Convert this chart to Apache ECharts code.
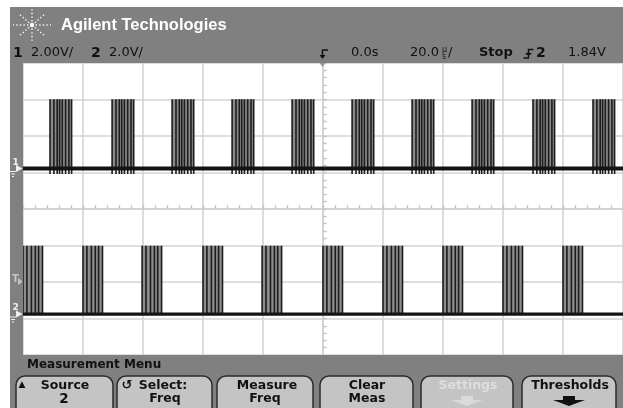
<!DOCTYPE html>
<html>
<head>
<meta charset="utf-8">
<script src="https://cdn.jsdelivr.net/npm/echarts@6/dist/echarts.min.js"></script>
<style>
  html, body { margin: 0; padding: 0; background: #fff; }
  #scope { width: 623px; height: 408px; }
</style>
</head>
<body>
<div id="scope"></div>
<script>
// Burst timing in microseconds (20 µs/div, trigger at 0 s)
const ch1BurstStartUs = [-91.0, -70.3, -50.3, -30.3, -10.3, 9.7, 29.7, 49.7, 70.0, 90.0];
const ch1EdgeOffsetsUs = [0, 1.3, 2.4, 3.2, 4.1, 5.2, 6.3, 7.2];
const ch2BurstStartUs = [-100.0, -80.0, -60.3, -40.0, -20.3, 0.0, 20.0, 40.0, 60.0, 80.0];
const ch2EdgeOffsetsUs = [0, 1.3, 2.8, 4.1, 5.2, 6.5];

// Signal levels in volts: [ground, high, undershoot]
const ch1LevelsV = [0, 3.8, -0.3];
const ch2LevelsV = [0, 3.75, -0.1];

// Channel scale (V/div) and ground marker position (div above screen centre)
const channelVoltsPerDiv = [2.0, 2.0];
const channelGroundDiv = [1.11, -2.88];

// Horizontal / vertical graticule
const timeRangeUs = [-100, 100];
const timePerDivUs = 20;
const divRange = [-4, 4];

function toDiv(ch, v) {
  return channelGroundDiv[ch] + v / channelVoltsPerDiv[ch];
}

// Each edge becomes a vertical stroke from the undershoot up to the high level
function traceData(ch, starts, offsets, levels) {
  const lo = toDiv(ch, levels[0]);
  const hi = toDiv(ch, levels[1]);
  const un = toDiv(ch, levels[2]);
  const pts = [];
  starts.forEach(function (s) {
    offsets.forEach(function (o) {
      const t = s + o;
      pts.push([t, lo], [t, un], [t, hi], [t, lo]);
    });
  });
  return pts;
}

// Persistence shading behind each burst
function burstShade(ch, starts, offsets, levels) {
  const w = offsets[offsets.length - 1];
  return starts.map(function (s) {
    return [{ coord: [s, toDiv(ch, levels[0])] }, { coord: [s + w, toDiv(ch, levels[1])] }];
  });
}

function groundLine(ch, levels) {
  const lo = toDiv(ch, levels[0]);
  return [[timeRangeUs[0], lo], [timeRangeUs[1], lo]];
}

const GRID_COLOR = '#d3d3d3';
const TICK_COLOR = '#c4c4c4';
const BEZEL = '#808080';

function centreAxis(base, inside, withSplit) {
  return Object.assign({
    axisLabel: { show: false },
    splitLine: { show: withSplit, lineStyle: { color: GRID_COLOR, width: 1.6 } },
    axisLine: { show: true, onZero: true, onZeroAxisIndex: 0, lineStyle: { color: GRID_COLOR, width: 1.6 } },
    axisTick: { show: true, inside: inside, length: 3.5, lineStyle: { color: TICK_COLOR, width: 1.2 } },
    minorTick: { show: true, splitNumber: 5, length: 3.5, lineStyle: { color: TICK_COLOR, width: 1.2 } },
    minorSplitLine: { show: false }
  }, base);
}

const xBase = { type: 'value', min: timeRangeUs[0], max: timeRangeUs[1], interval: timePerDivUs, gridIndex: 0 };
const yBase = { type: 'value', min: divRange[0], max: divRange[1], interval: 1, gridIndex: 0 };

const statusFont = '13px "DejaVu Sans"';
const statusBold = 'bold 14px "DejaVu Sans"';
const keyFont = 'bold 12.5px "DejaVu Sans"';

function txt(x, y, text, font, fill, align) {
  return {
    type: 'text', x: x, y: y, z: 100, silent: true,
    style: { text: text, font: font, fill: fill || '#111', textAlign: align || 'left', textVerticalAlign: 'middle' }
  };
}

function softkey(x0, x1) {
  return {
    type: 'rect', z: 60, silent: true,
    shape: { x: x0, y: 376, width: x1 - x0, height: 44, r: 9 },
    style: { fill: '#c4c4c4', stroke: '#2b2b2b', lineWidth: 1.5 }
  };
}

function downArrow(cx, color) {
  return {
    type: 'polygon', z: 100, silent: true,
    shape: { points: [[cx - 6, 396], [cx + 6, 396], [cx + 6, 400], [cx + 16, 400], [cx, 406], [cx - 16, 400], [cx - 6, 400]] },
    style: { fill: color }
  };
}

// Agilent spark logo: dotted rays around a centre
function sparkLogo(cx, cy) {
  const rays = [[19, 0], [-19, 0], [0, 16], [0, -16], [13, 11], [-13, -11], [13, -11], [-13, 11]];
  const els = rays.map(function (r) {
    return {
      type: 'line', z: 100, silent: true,
      shape: { x1: cx, y1: cy, x2: cx + r[0], y2: cy + r[1] },
      style: { stroke: '#f4f4f4', lineWidth: 1.4, lineDash: [1.4, 2.2] }
    };
  });
  els.push({ type: 'circle', z: 101, silent: true, shape: { cx: cx, cy: cy, r: 2.2 }, style: { fill: '#ffffff' } });
  return els;
}

function groundMarker(label, y, color) {
  return [
    txt(12.5, y - 6, label, 'bold 9px "DejaVu Sans"', color),
    { type: 'polygon', z: 100, silent: true, shape: { points: [[16, y - 3.5], [22.5, y], [16, y + 3.5]] }, style: { fill: color } },
    { type: 'line', z: 100, silent: true, shape: { x1: 10, y1: y + 3, x2: 16, y2: y + 3 }, style: { stroke: color, lineWidth: 1 } },
    { type: 'line', z: 100, silent: true, shape: { x1: 11, y1: y + 5.5, x2: 15, y2: y + 5.5 }, style: { stroke: color, lineWidth: 1 } },
    { type: 'line', z: 100, silent: true, shape: { x1: 12, y1: y + 8, x2: 14, y2: y + 8 }, style: { stroke: color, lineWidth: 1 } }
  ];
}

const graphics = [
  // bezel around the display area
  { type: 'rect', z: 50, silent: true, shape: { x: 10, y: 7, width: 613, height: 56 }, style: { fill: BEZEL } },
  { type: 'rect', z: 50, silent: true, shape: { x: 10, y: 63, width: 13, height: 292 }, style: { fill: BEZEL } },
  { type: 'rect', z: 50, silent: true, shape: { x: 10, y: 355, width: 613, height: 53 }, style: { fill: BEZEL } },

  txt(61, 25, 'Agilent Technologies', 'bold 16.5px "Liberation Sans"', '#ffffff'),

  // status line
  txt(13, 53, '1', statusBold),
  txt(31, 53, '2.00V/', statusFont),
  txt(91, 53, '2', statusBold),
  txt(109, 53, '2.0V/', statusFont),
  txt(351, 53, '0.0s', statusFont),
  txt(410, 53, '20.0', statusFont),
  txt(442, 50, 'µ', '8px "DejaVu Sans"'),
  txt(442, 57, 's', '8px "DejaVu Sans"'),
  txt(448, 53, '/', statusFont),
  txt(479, 53, 'Stop', 'bold 13px "DejaVu Sans"'),
  txt(536, 53, '2', statusBold),
  txt(568, 53, '1.84V', statusFont),

  // trigger position marker
  { type: 'polyline', z: 100, silent: true, shape: { points: [[328, 50], [322.5, 50], [322.5, 56]] }, style: { stroke: '#111', lineWidth: 1.4, fill: null } },
  { type: 'polygon', z: 100, silent: true, shape: { points: [[319.5, 55], [325.5, 55], [322.5, 59]] }, style: { fill: '#111' } },
  { type: 'polygon', z: 100, silent: true, shape: { points: [[319.5, 63], [325.5, 63], [322.5, 67]] }, style: { fill: '#9a9a9a' } },

  // trigger edge symbol
  { type: 'polyline', z: 100, silent: true, shape: { points: [[523.5, 58], [528.5, 58], [528.5, 49.5], [533.5, 49.5]] }, style: { stroke: '#111', lineWidth: 1.4, fill: null } },
  { type: 'polygon', z: 100, silent: true, shape: { points: [[526, 55], [531, 55], [528.5, 51.5]] }, style: { fill: '#111' } },
  { type: 'line', z: 100, silent: true, shape: { x1: 525.5, y1: 53.5, x2: 531.5, y2: 53.5 }, style: { stroke: '#111', lineWidth: 1 } },

  // measurement menu
  txt(27, 365, 'Measurement Menu', 'bold 12px "DejaVu Sans"'),
  softkey(16, 113), softkey(117, 212), softkey(217, 313),
  softkey(320, 413), softkey(421, 513), softkey(522, 616),
  txt(22, 385, '▲', '9px "DejaVu Sans"', '#111', 'center'),
  txt(65, 386, 'Source', keyFont, '#111', 'center'),
  txt(64, 399, '2', 'bold 13.5px "DejaVu Sans"', '#111', 'center'),
  txt(127, 386, '↺', 'bold 13px "DejaVu Sans"', '#111', 'center'),
  txt(163, 386, 'Select:', keyFont, '#111', 'center'),
  txt(165, 399, 'Freq', keyFont, '#111', 'center'),
  txt(267, 386, 'Measure', keyFont, '#111', 'center'),
  txt(265, 399, 'Freq', keyFont, '#111', 'center'),
  txt(367, 386, 'Clear', keyFont, '#111', 'center'),
  txt(367, 399, 'Meas', keyFont, '#111', 'center'),
  txt(468, 386, 'Settings', keyFont, '#dedede', 'center'),
  downArrow(467, '#dadada'),
  txt(570, 386, 'Thresholds', keyFont, '#111', 'center'),
  downArrow(569, '#111')
].concat(sparkLogo(32, 25))
 .concat(groundMarker('1', 168.5, '#f0f0f0'))
 .concat(groundMarker('2', 314, '#f0f0f0'))
 .concat([
   txt(12, 279, 'T', 'bold 10px "DejaVu Sans"', '#c4c4c4'),
   { type: 'polygon', z: 100, silent: true, shape: { points: [[18, 278], [22.5, 281.5], [18, 285]] }, style: { fill: '#c4c4c4' } }
 ]);

const chart = echarts.init(document.getElementById('scope'), null, { renderer: 'canvas' });

chart.setOption({
  backgroundColor: '#ffffff',
  animation: false,
  grid: { left: 23, top: 63, right: 0, bottom: 53, show: false },
  xAxis: [centreAxis(xBase, true, true), centreAxis(xBase, false, false)],
  yAxis: [centreAxis(yBase, true, true), centreAxis(yBase, false, false)],
  series: [
    {
      name: 'Channel 1', type: 'line', symbol: 'none', silent: true, z: 4,
      data: traceData(0, ch1BurstStartUs, ch1EdgeOffsetsUs, ch1LevelsV),
      lineStyle: { color: '#1c1c1c', width: 1.6 },
      markArea: { silent: true, itemStyle: { color: '#8a8a8a' }, data: burstShade(0, ch1BurstStartUs, ch1EdgeOffsetsUs, ch1LevelsV) }
    },
    {
      name: 'Channel 1 ground', type: 'line', symbol: 'none', silent: true, z: 5,
      data: groundLine(0, ch1LevelsV),
      lineStyle: { color: '#141414', width: 3.8 }
    },
    {
      name: 'Channel 2', type: 'line', symbol: 'none', silent: true, z: 4,
      data: traceData(1, ch2BurstStartUs, ch2EdgeOffsetsUs, ch2LevelsV),
      lineStyle: { color: '#1c1c1c', width: 1.6 },
      markArea: { silent: true, itemStyle: { color: '#8e8e8e' }, data: burstShade(1, ch2BurstStartUs, ch2EdgeOffsetsUs, ch2LevelsV) }
    },
    {
      name: 'Channel 2 ground', type: 'line', symbol: 'none', silent: true, z: 5,
      data: groundLine(1, ch2LevelsV),
      lineStyle: { color: '#141414', width: 3.2 }
    }
  ],
  graphic: graphics
});
</script>
</body>
</html>
